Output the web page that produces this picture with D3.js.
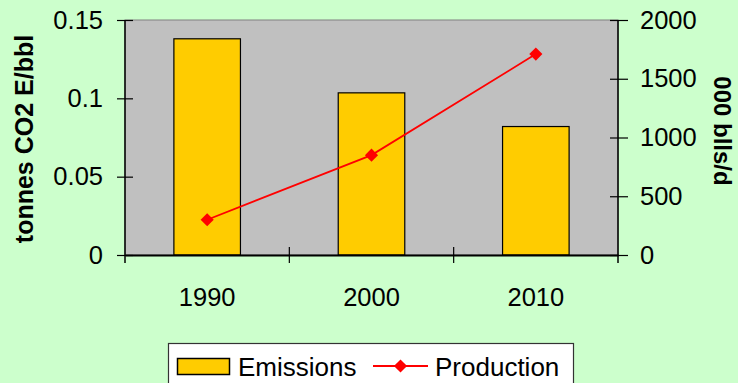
<!DOCTYPE html>
<html>
<head>
<meta charset="utf-8">
<script src="https://cdn.jsdelivr.net/npm/d3@7"></script>
<style>
  html, body { margin: 0; padding: 0; background: #CCFFCC; }
  svg { display: block; font-family: "Liberation Sans", Arial, sans-serif; }
</style>
</head>
<body>
<svg id="chart" width="738" height="383"></svg>
<script>
// Emissions intensity (bars, left axis) and production (line, right axis)
const years = ["1990", "2000", "2010"];
const emissions = [0.138, 0.1035, 0.082];
const production = [300, 850, 1710];
const leftTicks = [0, 0.05, 0.1, 0.15];
const leftTickLabels = ["0", "0.05", "0.1", "0.15"];
const rightTicks = [0, 500, 1000, 1500, 2000];
const rightTickLabels = ["0", "500", "1000", "1500", "2000"];

const svg = d3.select("#chart");
const plot = { left: 125, right: 618, top: 20, bottom: 255 };

const x = d3.scaleBand().domain(years).range([plot.left, plot.right])
  .paddingInner(0.595).paddingOuter(0.2975);
const yL = d3.scaleLinear().domain([0, 0.15]).range([plot.bottom, plot.top]);
const yR = d3.scaleLinear().domain([0, 2000]).range([plot.bottom, plot.top]);

// plot area
svg.append("rect")
  .attr("x", plot.left).attr("y", plot.top)
  .attr("width", plot.right - plot.left).attr("height", plot.bottom - plot.top)
  .attr("fill", "#C0C0C0").attr("stroke", "#808080").attr("stroke-width", 1);

// bars
svg.selectAll("rect.bar").data(years).join("rect").attr("class", "bar")
  .attr("x", d => x(d))
  .attr("y", (d, i) => yL(emissions[i]))
  .attr("width", x.bandwidth())
  .attr("height", (d, i) => yL(0) - yL(emissions[i]))
  .attr("fill", "#FFCC00").attr("stroke", "#000").attr("stroke-width", 1.2);

// production line
const cx = d => x(d) + x.bandwidth() / 2;
svg.append("path")
  .datum(years)
  .attr("d", d3.line().x(d => cx(d)).y((d, i) => yR(production[i])))
  .attr("fill", "none").attr("stroke", "#FF0000").attr("stroke-width", 1.8);
const diamond = d3.symbol().type(d3.symbolDiamond2).size(110);
svg.selectAll("path.pt").data(years).join("path").attr("class", "pt")
  .attr("transform", (d, i) => `translate(${cx(d)},${yR(production[i])})`)
  .attr("d", diamond).attr("fill", "#FF0000");

// left axis
const leftAxis = d3.axisLeft(yL).tickValues(leftTicks)
  .tickFormat((d, i) => leftTickLabels[i]).tickSizeOuter(0).tickSizeInner(8).tickPadding(14);
const gL = svg.append("g").attr("transform", `translate(${plot.left},0)`).call(leftAxis);

// right axis
const rightAxis = d3.axisRight(yR).tickValues(rightTicks)
  .tickFormat((d, i) => rightTickLabels[i]).tickSizeOuter(0).tickSizeInner(10).tickPadding(12);
const gR = svg.append("g").attr("transform", `translate(${plot.right},0)`).call(rightAxis);

// bottom axis: labels centred, ticks on category boundaries
const bottomAxis = d3.axisBottom(x).tickSize(0).tickPadding(33).tickSizeOuter(0);
const gB = svg.append("g").attr("transform", `translate(0,${plot.bottom})`).call(bottomAxis);
const bounds = years.map(d => x(d) - x.step() * x.paddingInner() / 2).concat([plot.right]);
gB.selectAll("line.sep").data(bounds.slice(1, 3)).join("line").attr("class", "sep")
  .attr("x1", d => d).attr("x2", d => d).attr("y1", -8).attr("y2", 8)
  .attr("stroke", "#000").attr("stroke-width", 1.2);

[gL, gR, gB].forEach(g => {
  g.selectAll("text").attr("font-size", 25.5).attr("fill", "#000")
    .attr("font-family", "'Liberation Sans', Arial, sans-serif");
  g.select(".domain").attr("stroke", "#000").attr("stroke-width", 1.5);
  g.selectAll(".tick line").attr("stroke", "#000").attr("stroke-width", 1.2);
});
gB.select(".domain").attr("stroke-width", 2.2);
// cross ticks on value axes extend into the plot as well
gL.selectAll(".tick line").attr("x1", 8);
gR.selectAll(".tick line").attr("x1", -8);
gL.select(".domain").attr("d", `M0,${plot.top}V${plot.bottom + 8}`);
gR.select(".domain").attr("d", `M0,${plot.top}V${plot.bottom + 8}`);

// axis titles
svg.append("text")
  .attr("transform", `translate(33,139) rotate(-90)`)
  .attr("text-anchor", "middle").attr("font-size", 25).attr("font-weight", "bold")
  .text("tonnes CO2 E/bbl");
svg.append("text")
  .attr("transform", `translate(714,131) rotate(90)`)
  .attr("text-anchor", "middle").attr("font-size", 24).attr("font-weight", "bold")
  .text("000 blls/d");

// legend
const lg = svg.append("g");
lg.append("rect").attr("x", 168.5).attr("y", 343.5).attr("width", 405).attr("height", 60)
  .attr("fill", "#FFFFFF").attr("stroke", "#333").attr("stroke-width", 1.2);
lg.append("rect").attr("x", 177.5).attr("y", 358.5).attr("width", 52).attr("height", 16)
  .attr("fill", "#FFCC00").attr("stroke", "#000").attr("stroke-width", 1.5);
lg.append("text").attr("x", 238).attr("y", 376).attr("font-size", 26).text("Emissions");
lg.append("line").attr("x1", 373).attr("x2", 428).attr("y1", 366).attr("y2", 366)
  .attr("stroke", "#FF0000").attr("stroke-width", 1.8);
lg.append("path").attr("transform", "translate(400.5,366)").attr("d", diamond).attr("fill", "#FF0000");
lg.append("text").attr("x", 435).attr("y", 376).attr("font-size", 26).text("Production");
</script>
</body>
</html>
